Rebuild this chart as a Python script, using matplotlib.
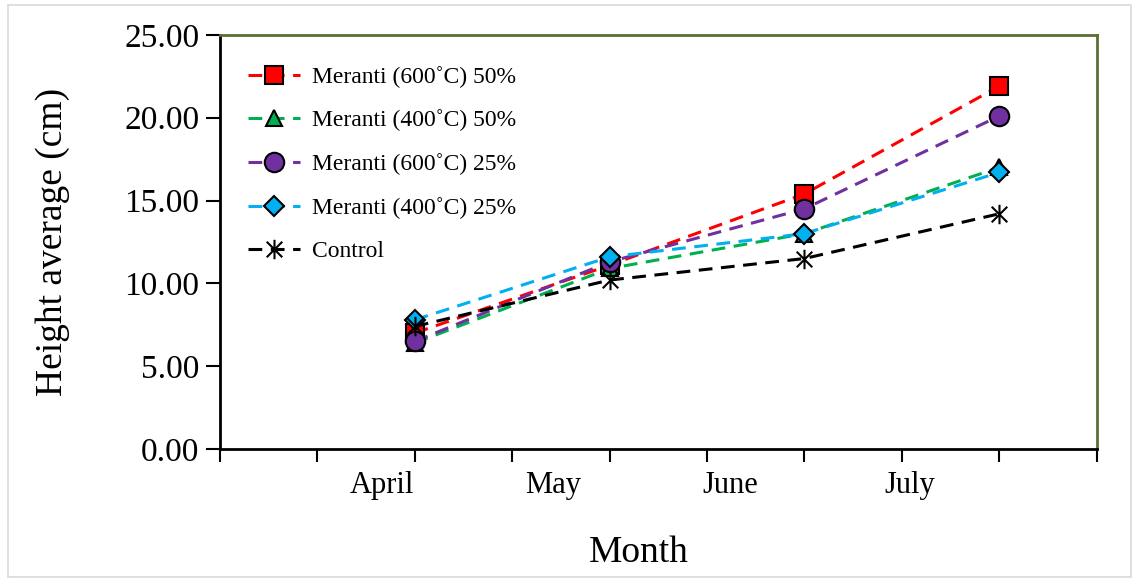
import matplotlib
matplotlib.use("Agg")
import matplotlib.pyplot as plt
import numpy as np
from matplotlib.path import Path
from matplotlib.patches import Rectangle

# data
months = ["April", "May", "June", "July"]
month_x = [1, 2, 3, 4]
# label positions are shifted left of the data points in the original
label_x = [0.83, 1.71, 2.62, 3.54]

series_names = [
    "Meranti (600˚C) 50%",
    "Meranti (400˚C) 50%",
    "Meranti (600˚C) 25%",
    "Meranti (400˚C) 25%",
    "Control",
]
meranti600_50 = [7.0, 11.1, 15.4, 21.9]
meranti400_50 = [6.4, 10.9, 13.0, 17.0]
meranti600_25 = [6.5, 11.3, 14.5, 20.1]
meranti400_25 = [7.8, 11.6, 13.0, 16.7]
control = [7.4, 10.2, 11.5, 14.2]

yticks = [0, 5, 10, 15, 20, 25]

# asterisk marker: vertical bar + two diagonals
ast = Path(
    [(0, -1), (0, 1), (-0.8, -0.8), (0.8, 0.8), (-0.8, 0.8), (0.8, -0.8)],
    [Path.MOVETO, Path.LINETO, Path.MOVETO, Path.LINETO, Path.MOVETO, Path.LINETO],
)

styles = [
    dict(color="#ff0000", marker="s", ms=13),
    dict(color="#00b050", marker="^", ms=12),
    dict(color="#7030a0", marker="o", ms=14),
    dict(color="#00b0f0", marker="D", ms=10),
    dict(color="#000000", marker=ast, ms=14),
]
values = [meranti600_50, meranti400_50, meranti600_25, meranti400_25, control]

plt.rcParams["font.family"] = ["Liberation Serif", "DejaVu Serif"]

fig = plt.figure(figsize=(11.34, 5.82), dpi=100)
ax = fig.add_axes([0.194, 0.2285, 0.773, 0.7115])

for name, vals, st in zip(series_names, values, styles):
    fill = st["color"] if st["marker"] is not ast else "none"
    ax.plot(month_x, vals, linestyle=(0, (4.5, 2.8)), linewidth=2.2,
            color=st["color"], marker=st["marker"], markersize=st["ms"],
            markerfacecolor=fill, markeredgecolor="black",
            markeredgewidth=1.5, label=name)

ax.set_xlim(0, 4.5)
ax.set_ylim(0, 25)
ax.set_yticks(yticks)
ax.set_yticklabels([f"{v:.2f}" for v in yticks], fontsize=24)
ax.set_xticks(np.arange(0, 4.51, 0.5))
ax.set_xticklabels([])
ax.set_xticks(label_x, months, minor=True)
ax.tick_params(axis="x", which="minor", length=0, labelsize=22, pad=16)
ax.tick_params(axis="x", which="major", direction="out", length=9, width=1.5)
ax.tick_params(axis="y", direction="out", length=10, width=1.5, pad=5)

for side in ["top", "right"]:
    ax.spines[side].set_color("#5b6f33")
    ax.spines[side].set_linewidth(2)
for side in ["left", "bottom"]:
    ax.spines[side].set_color("black")
    ax.spines[side].set_linewidth(2)

ax.set_ylabel("Height average (cm)", fontsize=27, labelpad=39)
ax.set_xlabel("Month", fontsize=27)
ax.xaxis.set_label_coords(0.478, -0.21)

ax.legend(loc="upper left", frameon=False, fontsize=17, numpoints=1,
          handlelength=2.2, labelspacing=0.92, handletextpad=0.5,
          bbox_to_anchor=(0.013, 0.965), borderaxespad=0.3)

# light grey border round the picture
fig.patches.append(Rectangle((0.007, 0.008), 0.99, 0.984, transform=fig.transFigure,
                             fill=False, edgecolor="#d9d9d9", linewidth=1.2))

fig.savefig("out.png", dpi=100)
